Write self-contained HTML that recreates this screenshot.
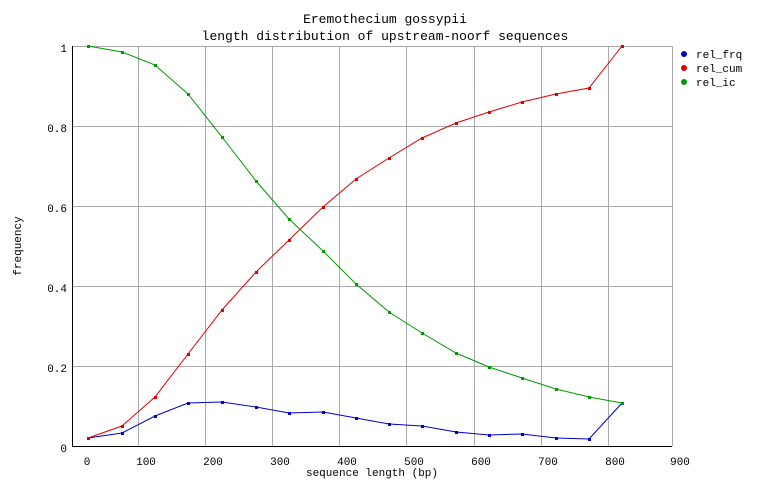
<!DOCTYPE html>
<html><head><style>body{margin:0;background:#fff}svg{display:block}</style></head><body>
<svg width="768" height="498" xmlns="http://www.w3.org/2000/svg" font-family="Liberation Mono, monospace" font-size="11">
<rect width="768" height="498" fill="#fff"/>
<g stroke="#aaa" stroke-width="1">
<line x1="138.5" y1="46" x2="138.5" y2="446"/><line x1="205.5" y1="46" x2="205.5" y2="446"/><line x1="272.5" y1="46" x2="272.5" y2="446"/><line x1="339.5" y1="46" x2="339.5" y2="446"/><line x1="406.5" y1="46" x2="406.5" y2="446"/><line x1="474.5" y1="46" x2="474.5" y2="446"/><line x1="541.5" y1="46" x2="541.5" y2="446"/><line x1="608.5" y1="46" x2="608.5" y2="446"/>
<line x1="72" y1="46.5" x2="672" y2="46.5"/><line x1="72" y1="126.5" x2="672" y2="126.5"/><line x1="72" y1="206.5" x2="672" y2="206.5"/><line x1="72" y1="286.5" x2="672" y2="286.5"/><line x1="72" y1="366.5" x2="672" y2="366.5"/>
<line x1="672.5" y1="46" x2="672.5" y2="446"/>
</g>
<line x1="72.5" y1="46" x2="72.5" y2="447" stroke="#000"/>
<line x1="72" y1="446.5" x2="672" y2="446.5" stroke="#000"/>
<g text-anchor="end"><text x="67" y="52">1</text><text x="67" y="132">0.8</text><text x="67" y="212">0.6</text><text x="67" y="292">0.4</text><text x="67" y="372">0.2</text><text x="67" y="452">0</text></g>
<g text-anchor="middle"><text x="87" y="465">0</text><text x="146" y="465">100</text><text x="213" y="465">200</text><text x="280" y="465">300</text><text x="347" y="465">400</text><text x="414" y="465">500</text><text x="481" y="465">600</text><text x="548" y="465">700</text><text x="615" y="465">800</text><text x="680" y="465">900</text>
<text x="372" y="476">sequence length (bp)</text>
<text x="385" y="23" font-size="13">Eremothecium gossypii</text>
<text x="385" y="40" font-size="13">length distribution of upstream-noorf sequences</text></g>
<text transform="translate(21,246) rotate(-90)" text-anchor="middle">frequency</text>
<g fill="none" stroke-width="1">
<polyline stroke="#00c" points="88,438 122,433 155,416 188,403 222,402 256,407 289,413 323,412 356,418 389,424 422,426 456,432 489,435 522,434 556,438 589,439 622,403"/>
<polyline stroke="#d00" points="88,438 122,426 155,397 188,354 222,310 256,272 289,240 323,207 356,179 389,158 422,138 456,123 489,112 522,102 556,94 589,88 622,46"/>
<polyline stroke="#090" points="88,46 122,52 155,65 188,94 222,137 256,181 289,219 323,251 356,284 389,312 422,333 456,353 489,367 522,378 556,389 589,397 622,403"/>
</g>
<g fill="#00c"><rect x="87" y="437" width="3" height="3"/><rect x="121" y="432" width="3" height="3"/><rect x="154" y="415" width="3" height="3"/><rect x="187" y="402" width="3" height="3"/><rect x="221" y="401" width="3" height="3"/><rect x="255" y="406" width="3" height="3"/><rect x="288" y="412" width="3" height="3"/><rect x="322" y="411" width="3" height="3"/><rect x="355" y="417" width="3" height="3"/><rect x="388" y="423" width="3" height="3"/><rect x="421" y="425" width="3" height="3"/><rect x="455" y="431" width="3" height="3"/><rect x="488" y="434" width="3" height="3"/><rect x="521" y="433" width="3" height="3"/><rect x="555" y="437" width="3" height="3"/><rect x="588" y="438" width="3" height="3"/></g>
<g fill="#d00"><rect x="87" y="437" width="3" height="3"/><rect x="121" y="425" width="3" height="3"/><rect x="154" y="396" width="3" height="3"/><rect x="187" y="353" width="3" height="3"/><rect x="221" y="309" width="3" height="3"/><rect x="255" y="271" width="3" height="3"/><rect x="288" y="239" width="3" height="3"/><rect x="322" y="206" width="3" height="3"/><rect x="355" y="178" width="3" height="3"/><rect x="388" y="157" width="3" height="3"/><rect x="421" y="137" width="3" height="3"/><rect x="455" y="122" width="3" height="3"/><rect x="488" y="111" width="3" height="3"/><rect x="521" y="101" width="3" height="3"/><rect x="555" y="93" width="3" height="3"/><rect x="588" y="87" width="3" height="3"/><rect x="621" y="45" width="3" height="3"/></g>
<g fill="#090"><rect x="87" y="45" width="3" height="3"/><rect x="121" y="51" width="3" height="3"/><rect x="154" y="64" width="3" height="3"/><rect x="187" y="93" width="3" height="3"/><rect x="221" y="136" width="3" height="3"/><rect x="255" y="180" width="3" height="3"/><rect x="288" y="218" width="3" height="3"/><rect x="322" y="250" width="3" height="3"/><rect x="355" y="283" width="3" height="3"/><rect x="388" y="311" width="3" height="3"/><rect x="421" y="332" width="3" height="3"/><rect x="455" y="352" width="3" height="3"/><rect x="488" y="366" width="3" height="3"/><rect x="521" y="377" width="3" height="3"/><rect x="555" y="388" width="3" height="3"/><rect x="588" y="396" width="3" height="3"/><rect x="621" y="402" width="3" height="3"/></g>
<circle cx="684" cy="54" r="3" fill="#00c"/><circle cx="684" cy="68" r="3" fill="#d00"/><circle cx="684" cy="82" r="3" fill="#090"/>
<text x="696" y="58">rel_frq</text><text x="696" y="72">rel_cum</text><text x="696" y="86">rel_ic</text>
</svg>
</body></html>
